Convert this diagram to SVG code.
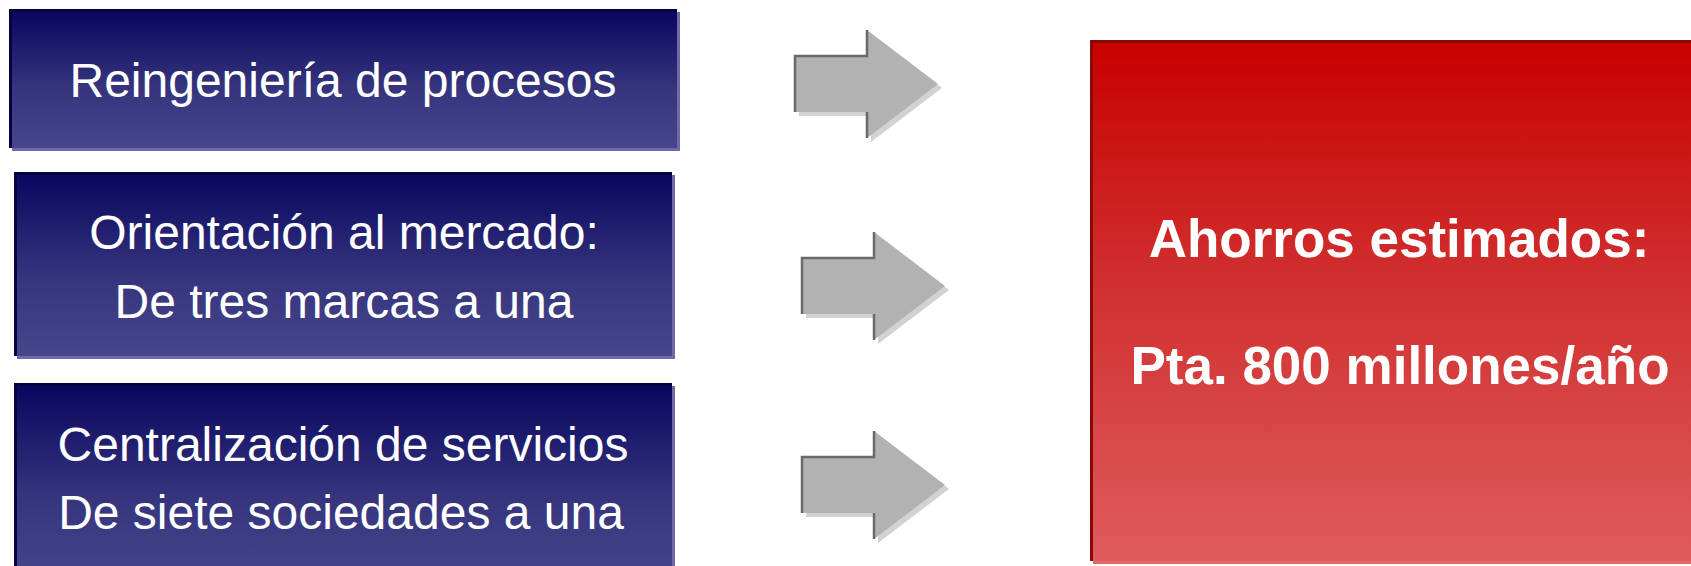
<svg xmlns="http://www.w3.org/2000/svg" width="1691" height="566" viewBox="0 0 1691 566">
  <defs>
    <linearGradient id="blueGrad" x1="0" y1="0" x2="0" y2="1">
      <stop offset="0" stop-color="#08055e"/>
      <stop offset="0.55" stop-color="#34337c"/>
      <stop offset="1" stop-color="#46468c"/>
    </linearGradient>
    <linearGradient id="redGrad" x1="0" y1="0" x2="0" y2="1">
      <stop offset="0" stop-color="#c80000"/>
      <stop offset="0.45" stop-color="#d02e2e"/>
      <stop offset="1" stop-color="#df5c5c"/>
    </linearGradient>
    <path id="arrowShape" d="M0,-28 H72 V-54 L143,0 L72,54 V28 H0 Z"/>
    <style>
      .boxShadow { fill: #6c6aa8; }
      .box { fill: url(#blueGrad); }
      .boxEdge { fill: none; stroke: #05043e; stroke-width: 3; }
      .label { font-family: "Liberation Sans", Arial, sans-serif; font-size: 48px; fill: #ffffff; text-anchor: middle; }
      .bigLabel { font-family: "Liberation Sans", Arial, sans-serif; font-size: 53px; font-weight: bold; fill: #ffffff; text-anchor: middle; }
      .arrowShadow { fill: #d2d2d2; }
      .arrowBody { fill: #b2b2b2; }
      .arrowEdge { fill: none; stroke: #6a6a6a; stroke-width: 2.5; }
    </style>
  </defs>

  <g id="node-reingenieria">
    <rect class="boxShadow" x="12" y="12" width="668" height="139"/>
    <rect class="box" x="9" y="9" width="668" height="139"/>
    <path class="boxEdge" d="M10.5,148 V10.5 H677"/>
    <text class="label" x="343" y="97">Reingeniería de procesos</text>
  </g>

  <g id="node-orientacion">
    <rect class="boxShadow" x="17" y="175" width="658" height="184"/>
    <rect class="box" x="14" y="172" width="658" height="184"/>
    <path class="boxEdge" d="M15.5,356 V173.5 H672"/>
    <text class="label" x="344" y="249">Orientación al mercado:</text>
    <text class="label" x="344" y="318">De tres marcas a una</text>
  </g>

  <g id="node-centralizacion">
    <rect class="boxShadow" x="17" y="386" width="658" height="200"/>
    <rect class="box" x="14" y="383" width="658" height="200"/>
    <path class="boxEdge" d="M15.5,583 V384.5 H672"/>
    <text class="label" x="343" y="461">Centralización de servicios</text>
    <text class="label" x="341" y="529">De siete sociedades a una</text>
  </g>

  <g id="node-ahorros">
    <rect x="1093" y="43" width="610" height="521" fill="#e46666"/>
    <rect x="1090" y="40" width="610" height="521" fill="url(#redGrad)"/>
    <path d="M1091.5,561 V41.5 H1700" fill="none" stroke="#8a0808" stroke-width="3"/>
    <text class="bigLabel" x="1399" y="257">Ahorros estimados:</text>
    <text class="bigLabel" x="1400" y="384">Pta. 800 millones/año</text>
  </g>

  <g id="connectors">
    <g transform="translate(795,84)">
      <use href="#arrowShape" class="arrowShadow" x="4" y="4"/>
      <use href="#arrowShape" class="arrowBody"/>
      <path class="arrowEdge" d="M0,28 V-28 H72 V-54 M72,28 V54"/>
    </g>
    <g transform="translate(802,286)">
      <use href="#arrowShape" class="arrowShadow" x="4" y="4"/>
      <use href="#arrowShape" class="arrowBody"/>
      <path class="arrowEdge" d="M0,28 V-28 H72 V-54 M72,28 V54"/>
    </g>
    <g transform="translate(802,485)">
      <use href="#arrowShape" class="arrowShadow" x="4" y="4"/>
      <use href="#arrowShape" class="arrowBody"/>
      <path class="arrowEdge" d="M0,28 V-28 H72 V-54 M72,28 V54"/>
    </g>
  </g>
</svg>
